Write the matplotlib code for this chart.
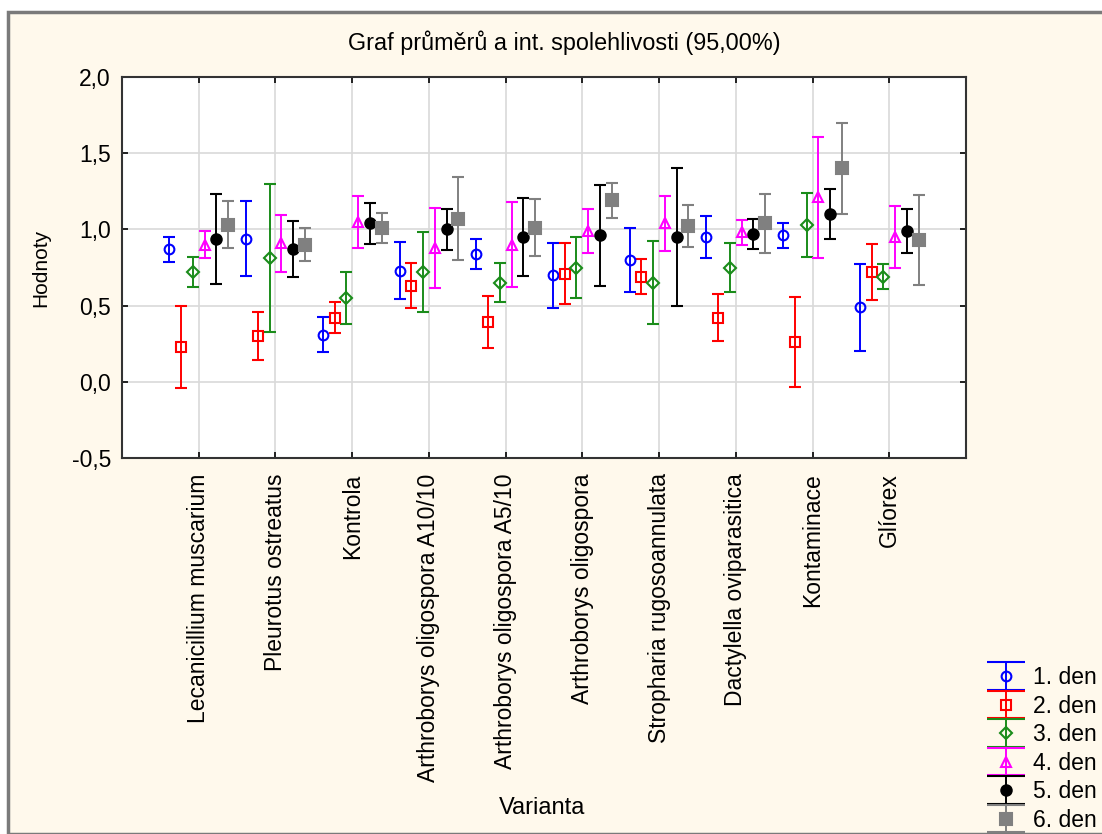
import numpy as np
import matplotlib
matplotlib.use("Agg")
import matplotlib.pyplot as plt
from matplotlib.legend_handler import HandlerErrorbar
from matplotlib.patches import Rectangle

plt.rcParams['font.family'] = ['Liberation Sans', 'DejaVu Sans']

varianty = ["Lecanicillium muscarium", "Pleurotus ostreatus", "Kontrola",
            "Arthroborys oligospora A10/10", "Arthroborys oligospora A5/10",
            "Arthroborys oligospora", "Stropharia rugosoannulata",
            "Dactylella oviparasitica", "Kontaminace", "Glíorex"]
dny = ["1. den", "2. den", "3. den", "4. den", "5. den", "6. den"]

# prumery a polovina 95% intervalu spolehlivosti
den1 = [0.87, 0.94, 0.31, 0.73, 0.84, 0.70, 0.80, 0.95, 0.96, 0.49]
den1_ci = [0.083, 0.245, 0.116, 0.186, 0.099, 0.214, 0.212, 0.136, 0.081, 0.285]
den2 = [0.23, 0.30, 0.42, 0.63, 0.39, 0.71, 0.69, 0.42, 0.26, 0.72]
den2_ci = [0.268, 0.159, 0.103, 0.148, 0.171, 0.199, 0.114, 0.155, 0.295, 0.181]
den3 = [0.72, 0.81, 0.55, 0.72, 0.65, 0.75, 0.65, 0.75, 1.03, 0.69]
den3_ci = [0.100, 0.486, 0.171, 0.263, 0.127, 0.202, 0.274, 0.159, 0.208, 0.084]
den4 = [0.90, 0.91, 1.05, 0.88, 0.90, 0.99, 1.04, 0.98, 1.21, 0.95]
den4_ci = [0.088, 0.187, 0.170, 0.263, 0.280, 0.142, 0.181, 0.082, 0.399, 0.201]
den5 = [0.94, 0.87, 1.04, 1.00, 0.95, 0.96, 0.95, 0.97, 1.10, 0.99]
den5_ci = [0.295, 0.185, 0.136, 0.136, 0.253, 0.334, 0.453, 0.099, 0.165, 0.147]
den6 = [1.03, 0.90, 1.01, 1.07, 1.01, 1.19, 1.02, 1.04, 1.40, 0.93]
den6_ci = [0.155, 0.110, 0.097, 0.274, 0.187, 0.114, 0.137, 0.193, 0.296, 0.295]

prumery = [den1, den2, den3, den4, den5, den6]
intervaly = [den1_ci, den2_ci, den3_ci, den4_ci, den5_ci, den6_ci]
barvy = ['#0000ff', '#ff0000', '#1a8c1a', '#ff00ff', '#000000', '#808080']
znacky = ['o', 's', 'D', '^', 'o', 's']
velikosti = [7, 7.5, 6, 7, 7.5, 8.5]
plne = [False, False, False, False, True, True]

bg = '#fff9ec'
fig = plt.figure(figsize=(11.02, 8.34), dpi=100, facecolor='white')
# ramecek okna
fig.patches.append(Rectangle((8/1102, 0), 1.0, 1 - 12/834, transform=fig.transFigure,
                             facecolor=bg, edgecolor='#7a7a7a', linewidth=2.5, zorder=-10))
ax = fig.add_axes([122/1102, 1 - 458/834, (966 - 122)/1102, (458 - 77)/834])
ax.set_facecolor('white')

x = np.arange(len(varianty))
for k in range(6):
    xs = x + (k - 2.5) * 0.153
    c = barvy[k]
    ax.errorbar(xs, prumery[k], yerr=intervaly[k], fmt=znacky[k], color=c, ecolor=c,
                markersize=velikosti[k], markeredgewidth=1.5,
                markerfacecolor=c if plne[k] else 'none', markeredgecolor=c,
                elinewidth=1.4, capsize=4, capthick=1.4, label=dny[k], zorder=3)

ax.set_xlim(-1, 10)
ax.set_ylim(-0.5, 2.0)
ax.set_xticks(x)
ax.set_xticklabels(varianty, rotation=90, fontsize=16.5)
ax.set_yticks(np.arange(-0.5, 2.01, 0.5))
ax.set_yticklabels([f"{v:.1f}".replace('.', ',') for v in np.arange(-0.5, 2.01, 0.5)], fontsize=16.5)
ax.tick_params(axis='both', direction='in', length=4, width=1.2, top=True, right=True)
ax.tick_params(axis='y', pad=8)
ax.tick_params(axis='x', pad=11)
ax.grid(True, color='#d9d9d9', linewidth=1.2, zorder=0)
ax.set_axisbelow(True)
for s in ax.spines.values():
    s.set_linewidth(1.5)
    s.set_color('#333333')

ax.set_ylabel("Hodnoty", fontsize=15)
ax.yaxis.set_label_coords(-72/844, 0.5)
fig.text(542/1102, 1 - 808/834, "Varianta", ha='center', va='center', fontsize=17)
fig.text(564/1102, 1 - 43/834, "Graf průměrů a int. spolehlivosti (95,00%)",
         ha='center', va='center', fontsize=16.8)


def uprav(leg_handle, orig):
    leg_handle.update_from(orig)
    if hasattr(orig, 'get_marker') and orig.get_marker() == '_':
        leg_handle.set_markersize(27)


h, l = ax.get_legend_handles_labels()
fig.legend(h, l, loc='lower left', bbox_to_anchor=(984/1102, 0), frameon=False,
           fontsize=16.5, handlelength=1.75, handletextpad=0.3, labelspacing=0.24,
           borderpad=0.1, borderaxespad=0,
           handler_map={type(h[0]): HandlerErrorbar(yerr_size=0.6, update_func=uprav)})

fig.savefig("out.png", dpi=100, facecolor=fig.get_facecolor())
